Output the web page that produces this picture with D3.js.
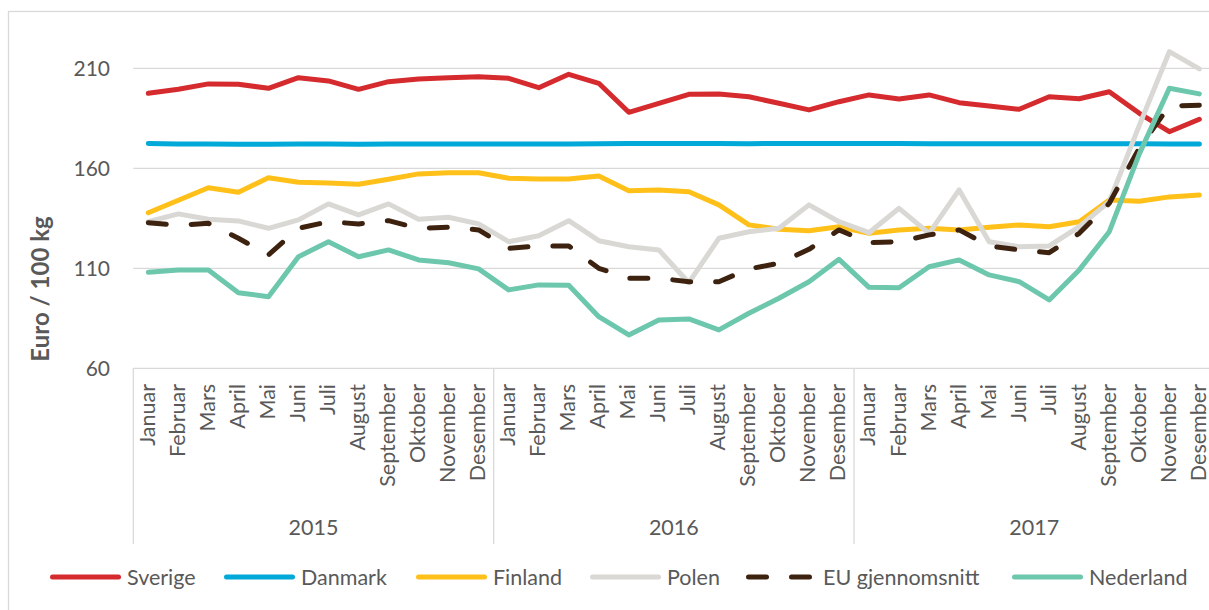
<!DOCTYPE html>
<html>
<head>
<meta charset="utf-8">
<script src="https://cdn.jsdelivr.net/npm/d3@7"></script>
<style>
  body { margin: 0; background: #fff; }
  text { font-family: Lato, "Open Sans", sans-serif; fill: #595959; }
</style>
</head>
<body>
<svg id="chart" width="1209" height="610"></svg>
<script>
// month / year categories
const months = ["Januar", "Februar", "Mars", "April", "Mai", "Juni", "Juli", "August",
  "September", "Oktober", "November", "Desember"];
const years = ["2015", "2016", "2017"];
const yTicks = [60, 110, 160, 210];

// Euro / 100 kg, Jan 2015 .. Des 2017
const sverige = [197.5, 199.5, 202.2, 202, 200, 205.3, 203.7, 199.5, 203.3, 204.7, 205.3, 205.8,
  205, 200.3, 207, 202.5, 188, 192.5, 197, 197.2, 195.8, 192.5, 189.2, 193.3,
  196.7, 194.7, 196.7, 192.8, 191.2, 189.5, 195.8, 194.8, 198.3, 187.5, 178.3, 184.5];
const danmark = [172.4, 172.2, 172.1, 172, 172, 172.1, 172.1, 172, 172.1, 172.1, 172.1, 172.1,
  172.1, 172.1, 172.1, 172.3, 172.4, 172.4, 172.4, 172.4, 172.3, 172.4, 172.4, 172.4,
  172.4, 172.4, 172.3, 172.3, 172.3, 172.3, 172.3, 172.3, 172.3, 172.3, 172.2, 172.2];
const finland = [137.8, 144, 150.3, 148, 155.3, 153, 152.7, 152, 154.5, 157.2, 157.8, 157.8,
  155, 154.7, 154.7, 156.2, 148.8, 149.2, 148.3, 141.7, 131.7, 129.5, 128.8, 130.8,
  127.5, 129.2, 130, 129.2, 130.5, 131.7, 130.8, 133.3, 144.2, 143.5, 145.7, 146.6];
const polen = [133.3, 137.2, 134.5, 133.7, 130, 134.2, 142.2, 136.7, 142.2, 134.5, 135.5, 132.2,
  123.3, 126.3, 133.8, 123.8, 120.8, 119.2, 102.8, 125, 128.3, 130, 141.7, 133.3,
  127.8, 140, 127.5, 149.2, 123.3, 120.8, 121.2, 130.8, 143.3, 181.5, 218.3, 209.7];
const euSnitt = [132.8, 131.5, 132.5, 125, 116.7, 130, 133.3, 132.2, 133.8, 130, 130.5, 129.2,
  120, 121.2, 121.2, 110, 105, 105, 103.3, 103.3, 109.7, 112.5, 119.5, 129.2,
  122.8, 123.3, 126.7, 129.2, 121.2, 119.2, 117.8, 127.5, 142.5, 170.2, 191.2, 191.5];
const nederland = [108, 109.2, 109.2, 97.8, 95.8, 115.8, 123.3, 115.8, 119.2, 114.2, 112.8, 109.7,
  99.2, 101.7, 101.5, 85.8, 76.7, 84.2, 84.7, 79.2, 87.5, 95, 103.3, 114.5,
  100.5, 100.3, 110.8, 114.2, 106.7, 103.3, 94.2, 109.2, 128.3, 167.2, 200, 197.2];

const series = [
  { name: "Sverige", values: sverige, color: "#D52B2E", dash: null },
  { name: "Danmark", values: danmark, color: "#00A9D7", dash: null },
  { name: "Finland", values: finland, color: "#FFC01A", dash: null },
  { name: "Polen", values: polen, color: "#D9D8D4", dash: null },
  { name: "EU gjennomsnitt", values: euSnitt, color: "#3D2210", dash: "18 25" },
  { name: "Nederland", values: nederland, color: "#6CC7AC", dash: null }
];

const categories = [];
years.forEach(y => months.forEach(m => categories.push(y + "-" + m)));

const svg = d3.select("#chart");
const plotLeft = 133.3, plotRight = 133.3 + 36 * 30.03;
const plotTop = 28.3, plotBottom = 368.3;

// chart border
svg.append("rect")
  .attr("x", 8.5).attr("y", 11.5)
  .attr("width", 1300).attr("height", 700)
  .attr("fill", "none").attr("stroke", "#d9d9d9").attr("stroke-width", 1.3);

const x = d3.scaleBand().domain(categories).range([plotLeft, plotRight]).paddingInner(0).paddingOuter(0);
const y = d3.scaleLinear().domain([60, 230]).range([plotBottom, plotTop]);
const cx = d => x(d) + x.bandwidth() / 2;

// gridlines
svg.append("g").selectAll("line").data(yTicks).enter().append("line")
  .attr("x1", plotLeft).attr("x2", 1209)
  .attr("y1", d => y(d)).attr("y2", d => y(d))
  .attr("stroke", "#d9d9d9").attr("stroke-width", 1.3);

// y labels
svg.append("g").selectAll("text").data(yTicks).enter().append("text")
  .attr("x", 110).attr("y", d => y(d)).attr("dy", "0.35em")
  .attr("text-anchor", "end").attr("font-size", 21)
  .text(d => d);

svg.append("text")
  .attr("transform", "translate(49,289) rotate(-90)")
  .attr("text-anchor", "middle").attr("font-size", 24).attr("font-weight", "bold")
  .text("Euro / 100 kg");

// x axis: month labels, year groups, separators
const xg = svg.append("g");
xg.selectAll("text.month").data(categories).enter().append("text")
  .attr("class", "month")
  .attr("transform", d => `translate(${cx(d)},384) rotate(-90)`)
  .attr("dy", "0.3em").attr("text-anchor", "end").attr("font-size", 21.5)
  .text(d => d.split("-")[1]);

const yearEdges = years.map(yr => x(yr + "-Januar"));
yearEdges.push(plotRight);
xg.selectAll("line.sep").data(yearEdges).enter().append("line")
  .attr("x1", d => d).attr("x2", d => d)
  .attr("y1", plotBottom).attr("y2", 544)
  .attr("stroke", "#d9d9d9").attr("stroke-width", 1.3);

xg.selectAll("text.year").data(years).enter().append("text")
  .attr("class", "year")
  .attr("x", (d, i) => (yearEdges[i] + yearEdges[i + 1]) / 2)
  .attr("y", 535).attr("text-anchor", "middle").attr("font-size", 21.5)
  .text(d => d);

// lines
const line = d3.line()
  .x((d, i) => cx(categories[i]))
  .y(d => y(d));

svg.append("g").selectAll("path").data(series).enter().append("path")
  .attr("d", d => line(d.values))
  .attr("fill", "none")
  .attr("stroke", d => d.color)
  .attr("stroke-width", 5)
  .attr("stroke-linejoin", "round")
  .attr("stroke-linecap", "round")
  .attr("stroke-dasharray", d => d.dash);

// legend
const legendX = [50, 224, 416, 590, 746, 1012];
const lg = svg.append("g").selectAll("g").data(series).enter().append("g")
  .attr("transform", (d, i) => `translate(${legendX[i]},577)`);
lg.append("line")
  .attr("x1", 2.5).attr("x2", 68.5)
  .attr("stroke", d => d.color).attr("stroke-width", 5)
  .attr("stroke-linecap", "round")
  .attr("stroke-dasharray", d => d.dash);
lg.append("text")
  .attr("x", 77).attr("dy", "0.35em").attr("font-size", 21.5)
  .text(d => d.name);
</script>
</body>
</html>
